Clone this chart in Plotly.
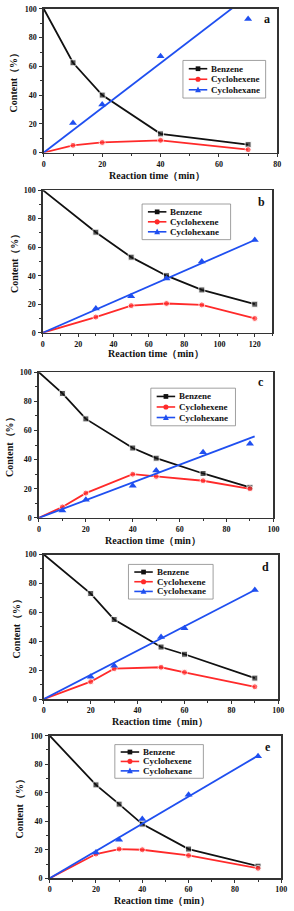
import plotly.graph_objects as go

W, H = 294, 911

# ---------------- data ----------------
a_time = [0, 10, 20, 40, 70]
a_benzene = [100, 62.5, 40, 13, 5.5]
a_cyclohexene = [0, 5, 7, 8.5, 2]
a_cyclohexane_time = [10, 20, 40, 70]
a_cyclohexane = [20.5, 33.5, 67, 93]
a_fit_time = [0, 70]
a_fit = [0, 109]

b_time = [0, 30, 50, 70, 90, 120]
b_benzene = [100, 70.5, 53, 40, 30, 20]
b_cyclohexene = [0, 11, 19, 20.5, 19.5, 10]
b_cyclohexane_time = [30, 50, 70, 90, 120]
b_cyclohexane = [17, 25.5, 38, 50, 65]
b_fit_time = [0, 120]
b_fit = [0, 65]

c_time = [0, 10, 20, 40, 50, 70, 90]
c_benzene = [100, 85.5, 68, 48, 41, 30.5, 21]
c_cyclohexene = [0, 7.5, 17, 30, 28.5, 25.5, 20]
c_cyclohexane_time = [10, 20, 40, 50, 70, 90]
c_cyclohexane = [5, 12.5, 22, 32.5, 45, 51]
c_fit_time = [0, 92]
c_fit = [0, 56]

d_time = [0, 20, 30, 50, 60, 90]
d_benzene = [100, 73, 55, 36, 31, 14.5]
d_cyclohexene = [0, 12, 21, 22, 18.5, 8.5]
d_cyclohexane_time = [20, 30, 50, 60, 90]
d_cyclohexane = [15.5, 23, 43, 49, 75.5]
d_fit_time = [0, 90]
d_fit = [0, 75.5]

e_time = [0, 20, 30, 40, 60, 90]
e_benzene = [100, 65.5, 52, 38, 20.5, 8.5]
e_cyclohexene = [0, 17, 20.5, 20, 16, 7]
e_cyclohexane_time = [20, 30, 40, 60, 90]
e_cyclohexane = [18, 27, 41.5, 58.5, 85.5]
e_fit_time = [0, 90]
e_fit = [0, 86]

x_max = [80, 130, 100, 100, 100]
panel_labels = ["a", "b", "c", "d", "e"]
series_names = ["Benzene", "Cyclohexene", "Cyclohexane"]
x_title = "Reaction time（min）"
y_title = "Content（%）"

data = [
    (a_time, a_benzene, a_cyclohexene, a_cyclohexane_time, a_cyclohexane, a_fit_time, a_fit),
    (b_time, b_benzene, b_cyclohexene, b_cyclohexane_time, b_cyclohexane, b_fit_time, b_fit),
    (c_time, c_benzene, c_cyclohexene, c_cyclohexane_time, c_cyclohexane, c_fit_time, c_fit),
    (d_time, d_benzene, d_cyclohexene, d_cyclohexane_time, d_cyclohexane, d_fit_time, d_fit),
    (e_time, e_benzene, e_cyclohexene, e_cyclohexane_time, e_cyclohexane, e_fit_time, e_fit),
]

# ---------------- layout (pixels) ----------------
plot_boxes = [  # left, top, right, bottom
    (43, 5, 283, 150),
    (42, 188, 278, 332),
    (38, 372, 279, 519),
    (43, 556, 284, 702),
    (49, 739, 287, 883),
]
legend_boxes = [
    (186, 57, 271, 95),
    (144, 202, 235, 238),
    (153, 388, 240, 426),
    (130, 566, 217, 601),
    (116, 748, 207, 782),
]
ytitle_x = [12, 13, 7, 15, 18]
xtitle_pos = [(159, 173), (158, 353), (155, 542), (162, 725), (164, 905)]
label_pos = [(272, 15), (267, 200), (266, 382), (271, 569), (273, 750)]

BLACK = "#111111"
RED = "#ff2a2a"
BLUE = "#1f4ff0"
colors = [BLACK, RED, BLUE]
FONT = "Liberation Serif"
AXC = "#333333"


def px(p):
    return p / W


def py(p):
    return 1 - p / H


fig = go.Figure()
layout = dict(
    width=W, height=H, margin=dict(l=0, r=0, t=0, b=0),
    paper_bgcolor="white", plot_bgcolor="white", showlegend=False,
    font=dict(family=FONT, color=BLACK),
)
shapes = []
annotations = []

for i, (t, ben, hexe, t_c, hexa, ft, fv) in enumerate(data):
    n = i + 1
    xa = "x" if n == 1 else f"x{n}"
    ya = "y" if n == 1 else f"y{n}"
    l, tp, r, b = plot_boxes[i]
    sizes0 = [0] + [6] * (len(t) - 1)
    fig.add_trace(go.Scatter(x=t, y=ben, mode="lines+markers", xaxis=xa, yaxis=ya,
                             line=dict(color=BLACK, width=1.8),
                             marker=dict(symbol="square", size=sizes0, color=BLACK)))
    fig.add_trace(go.Scatter(x=t, y=hexe, mode="lines+markers", xaxis=xa, yaxis=ya,
                             line=dict(color=RED, width=1.8),
                             marker=dict(symbol="circle", size=sizes0, color=RED)))
    fig.add_trace(go.Scatter(x=ft, y=fv, mode="lines", xaxis=xa, yaxis=ya,
                             line=dict(color=BLUE, width=1.8)))
    fig.add_trace(go.Scatter(x=t_c, y=hexa, mode="markers", xaxis=xa, yaxis=ya,
                             marker=dict(symbol="triangle-up", size=7, color=BLUE)))

    axis_common = dict(
        showgrid=False, zeroline=False, showline=True, linecolor=AXC, linewidth=1.5,
        mirror=True, ticks="outside", ticklen=3, tickwidth=1, tickcolor=AXC,
        tickfont=dict(family=FONT, size=8, color=BLACK, weight="bold"),
        minor=dict(ticks="outside", ticklen=2, tickcolor=AXC, dtick=10),
        fixedrange=True,
    )
    xkey = "xaxis" if n == 1 else f"xaxis{n}"
    ykey = "yaxis" if n == 1 else f"yaxis{n}"
    layout[xkey] = dict(axis_common, domain=[px(l), px(r)], range=[0, x_max[i]],
                        dtick=20, tick0=0, anchor=ya)
    layout[ykey] = dict(axis_common, domain=[py(b), py(tp)], range=[0, 100],
                        dtick=20, tick0=0, anchor=xa, ticklabelstandoff=1)

    # axis titles
    cy = (tp + b) / 2
    annotations.append(dict(x=px(ytitle_x[i]), y=py(cy), xref="paper", yref="paper",
                            xanchor="center", yanchor="middle",
                            text=y_title, textangle=-90, showarrow=False,
                            font=dict(family=FONT, size=10, color=BLACK, weight="bold")))
    xt, yt = xtitle_pos[i]
    annotations.append(dict(x=px(xt), y=py(yt), xref="paper", yref="paper",
                            xanchor="center", yanchor="middle",
                            text=x_title, showarrow=False,
                            font=dict(family=FONT, size=10, color=BLACK, weight="bold")))
    lx, lyy = label_pos[i]
    annotations.append(dict(x=px(lx), y=py(lyy), xref="paper", yref="paper",
                            xanchor="center", yanchor="middle",
                            text=panel_labels[i], showarrow=False,
                            font=dict(family=FONT, size=12, color=BLACK, weight="bold")))

    # legend (drawn manually)
    bl, bt, br, bb = legend_boxes[i]
    shapes.append(dict(type="rect", xref="paper", yref="paper",
                       x0=px(bl), x1=px(br), y0=py(bb), y1=py(bt),
                       line=dict(color="#888888", width=0.8), fillcolor="white",
                       layer="above"))
    hgt = bb - bt
    for k in range(3):
        ry = bt + hgt * (0.22 + 0.28 * k)
        c = colors[k]
        shapes.append(dict(type="line", xref="paper", yref="paper",
                           x0=px(bl + 6), x1=px(bl + 25), y0=py(ry), y1=py(ry),
                           line=dict(color=c, width=1.6), layer="above"))
        mx = bl + 15.5
        if k == 0:
            s = 2.4
            shapes.append(dict(type="rect", xref="paper", yref="paper",
                               x0=px(mx - s), x1=px(mx + s), y0=py(ry + s), y1=py(ry - s),
                               line=dict(width=0), fillcolor=c, layer="above"))
        elif k == 1:
            s = 2.6
            shapes.append(dict(type="circle", xref="paper", yref="paper",
                               x0=px(mx - s), x1=px(mx + s), y0=py(ry + s), y1=py(ry - s),
                               line=dict(width=0), fillcolor=c, layer="above"))
        else:
            s = 3.0
            path = (f"M {px(mx - s)},{py(ry + s * 0.8)} L {px(mx + s)},{py(ry + s * 0.8)} "
                    f"L {px(mx)},{py(ry - s * 1.1)} Z")
            shapes.append(dict(type="path", xref="paper", yref="paper", path=path,
                               line=dict(width=0), fillcolor=c, layer="above"))
        annotations.append(dict(x=px(bl + 27), y=py(ry), xref="paper", yref="paper",
                                text=series_names[k], showarrow=False, xanchor="left",
                                yanchor="middle",
                                font=dict(family=FONT, size=9, color=BLACK, weight="bold")))

layout["shapes"] = shapes
layout["annotations"] = annotations
fig.update_layout(**layout)
fig.write_html(
    "out.html",
    config={"displayModeBar": False, "staticPlot": True},
    post_script="document.body.style.margin='0';document.body.style.overflow='hidden';",
)
